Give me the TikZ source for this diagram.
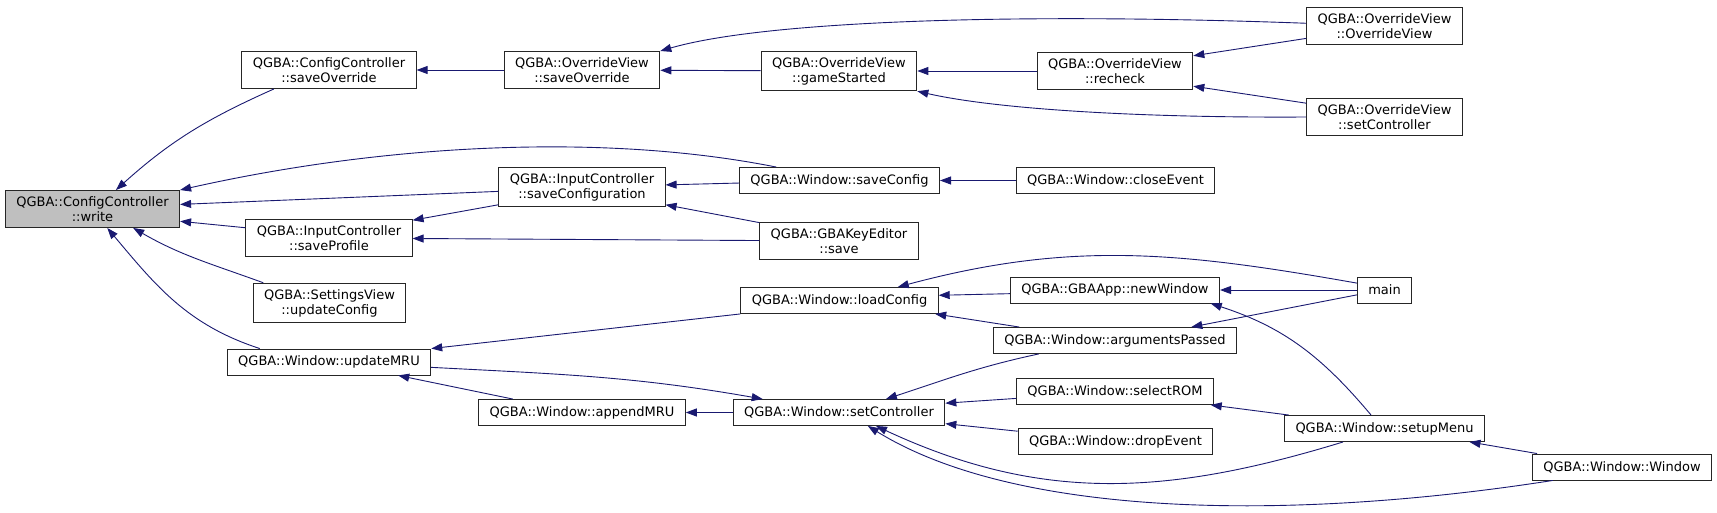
\documentclass[tikz,border=0pt]{standalone}
\usepackage{fontspec}
\setmainfont{DejaVu Sans}
\usepackage{xcolor}
\usetikzlibrary{arrows.meta}
\definecolor{edgeblue}{RGB}{25,25,112}

\begin{document}
\begin{tikzpicture}[
  x=1pt, y=-1pt,
  box/.style={draw=black!85, line width=0.9pt, fill=white, minimum height=26pt, inner xsep=11pt, inner ysep=6pt, align=center, font=\fontsize{13}{15}\selectfont},
  root/.style={box, fill=black!25},
  arr/.style={-{Triangle[length=11pt,width=8pt]}, draw=edgeblue, line width=0.9pt},
]
\useasboundingbox (0,0) rectangle (1717,513);

\node[root] (write)    at (92.5,209)   {QGBA::ConfigController\\::write};

\node[box] (ccsave)    at (329,70)     {QGBA::ConfigController\\::saveOverride};
\node[box] (profile)   at (329,238)    {QGBA::InputController\\::saveProfile};
\node[box] (settings)  at (329.5,303)  {QGBA::SettingsView\\::updateConfig};
\node[box] (mru)       at (329,362)    {QGBA::Window::updateMRU};

\node[box] (ovsave)    at (582,70)     {QGBA::OverrideView\\::saveOverride};
\node[box] (saveconf)  at (582,187)    {QGBA::InputController\\::saveConfiguration};
\node[box] (append)    at (582,412.5)  {QGBA::Window::appendMRU};

\node[box] (started)   at (839,71)     {QGBA::OverrideView\\::gameStarted};
\node[box] (winsave)   at (839.5,180.5) {QGBA::Window::saveConfig};
\node[box] (keysave)   at (839,241)    {QGBA::GBAKeyEditor\\::save};
\node[box] (loadconf)  at (839.5,300.5) {QGBA::Window::loadConfig};
\node[box] (setctrl)   at (839,412.5)  {QGBA::Window::setController};

\node[box] (recheck)   at (1115,71)    {QGBA::OverrideView\\::recheck};
\node[box] (close)     at (1115.5,180.5) {QGBA::Window::closeEvent};
\node[box] (newwin)    at (1115,290)   {QGBA::GBAApp::newWindow};
\node[box] (args)      at (1115,340.5) {QGBA::Window::argumentsPassed};
\node[box] (selrom)    at (1115,391.5) {QGBA::Window::selectROM};
\node[box] (drop)      at (1115.5,441.5) {QGBA::Window::dropEvent};

\node[box] (ovctor)    at (1384.5,26)  {QGBA::OverrideView\\::OverrideView};
\node[box] (ovctrl)    at (1384.5,117) {QGBA::OverrideView\\::setController};
\node[box] (main)      at (1384.5,290) {main};
\node[box] (menu)      at (1384.5,428.5) {QGBA::Window::setupMenu};
\node[box] (window)    at (1622,467)   {QGBA::Window::Window};

\draw[arr] (ccsave.199) to[out=204,in=42] (write.39);
\draw[arr] (winsave.168) .. controls (600,132) and (380,145) .. (write.north east);
\draw[arr] (saveconf.183) -- (write.3);
\draw[arr] (profile.173) -- (write.352);
\draw[arr] (settings.163) to[out=160,in=-30] (write.335);
\draw[arr] (mru.169) to[out=162,in=-50] (write.308);

\draw[arr] (ovsave) -- (ccsave);
\draw[arr] (saveconf.192) -- (profile.12);
\draw[arr] (keysave) -- (profile);
\draw[arr] (loadconf.south west) -- (mru.north east);
\draw[arr] (mru.357) to[out=-3,in=170] (setctrl.170);
\draw[arr] (append.169) -- (mru.349);
\draw[arr] (setctrl) -- (append);

\draw[arr] (started) -- (ovsave);
\draw[arr] (ovctor.178) .. controls (1000,12) and (760,22) .. (ovsave.north east);
\draw[arr] (recheck) -- (started);
\draw[arr] (ovctrl.west) .. controls (1150,118) and (1000,110) .. (started.south east);
\draw[arr] (ovctor.189) -- (recheck.11);
\draw[arr] (ovctrl.170) -- (recheck.349);

\draw[arr] (winsave) -- (saveconf);
\draw[arr] (keysave.167) -- (saveconf.348);
\draw[arr] (close) -- (winsave);

\draw[arr] (main.166) to[out=170,in=15] (loadconf.13);
\draw[arr] (newwin.182) -- (loadconf.3);
\draw[arr] (args.172) -- (loadconf.352);
\draw[arr] (main) -- (newwin);
\draw[arr] (main.190) -- (args.10);
\draw[arr] (menu.135) to[out=130,in=-18] (newwin.352);

\draw[arr] (args.190) to[out=192,in=18] (setctrl.16);
\draw[arr] (selrom.184) -- (setctrl.5);
\draw[arr] (drop.174) -- (setctrl.354);
\draw[arr] (menu.198) to[out=197,in=-25] (setctrl.340);
\draw[arr] (window.191) .. controls (1300,520) and (1020,520) .. (setctrl.335);
\draw[arr] (menu.172) -- (selrom.352);
\draw[arr] (window.171) -- (menu.351);
\end{tikzpicture}
\end{document}
